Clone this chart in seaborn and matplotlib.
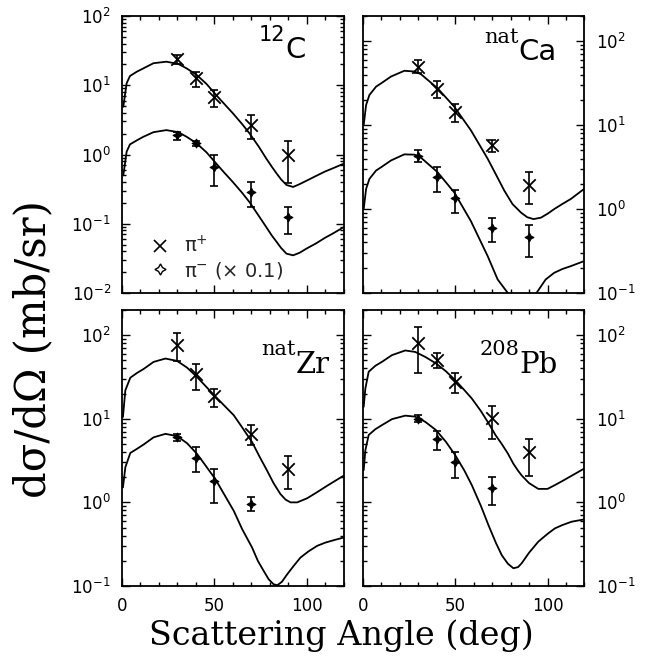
import numpy as np
import pandas as pd
import matplotlib
matplotlib.use("Agg")
import matplotlib.pyplot as plt
import seaborn as sns
from matplotlib.lines import Line2D
from matplotlib.ticker import LogLocator, MultipleLocator, NullFormatter, FixedLocator

sns.set_theme(style="ticks")
plt.rcParams["font.family"] = ["DejaVu Sans"]

# ---------------- data ----------------
meas_angles = [30, 40, 50, 70, 90]

# 12C
c12_pip = [23.7, 12.6, 6.8, 2.67, 1.0]
c12_pip_lo = [20.3, 9.34, 4.85, 1.66, 0.39]
c12_pip_hi = [27.3, 15.7, 8.54, 3.72, 1.58]
c12_pim = [1.91, 1.45, 0.667, 0.29, 0.124]
c12_pim_lo = [1.62, 1.32, 0.35, 0.176, 0.071]
c12_pim_hi = [2.13, 1.57, 0.98, 0.405, 0.176]
c12_curve_ang = [0.7, 2.5, 4.3, 8, 11.5, 17, 24, 30.5, 35, 40.4, 45.8, 51, 55, 60, 65, 69, 74, 78, 81, 83.6, 86, 89, 92.6, 96, 100, 105, 110, 114, 119.6]
c12_curve_pip = [4.9, 10.7, 13.6, 15.7, 17.5, 20.8, 21.9, 20.3, 17.5, 14.1, 10.4, 7.2, 5.5, 3.94, 2.75, 2.02, 1.3, 0.88, 0.67, 0.535, 0.44, 0.363, 0.34, 0.372, 0.42, 0.49, 0.57, 0.63, 0.73]
c12_curve_pim = [0.5, 1.1, 1.4, 1.6, 1.8, 2.1, 2.25, 2.1, 1.8, 1.45, 1.07, 0.74, 0.56, 0.40, 0.28, 0.205, 0.13, 0.09, 0.068, 0.055, 0.045, 0.037, 0.035, 0.038, 0.044, 0.052, 0.063, 0.072, 0.088]

# natCa
ca_pip = [50.0, 27.0, 14.5, 5.75, 1.94]
ca_pip_lo = [41.7, 21.3, 11.0, 4.8, 1.15]
ca_pip_hi = [60.0, 33.7, 17.7, 6.6, 2.75]
ca_pim = [4.28, 2.44, 1.34, 0.60, 0.466]
ca_pim_lo = [3.63, 1.61, 0.91, 0.40, 0.27]
ca_pim_hi = [5.0, 3.16, 1.71, 0.79, 0.64]
ca_curve_ang_p = [0.5, 1.8, 3.6, 7.2, 10, 15.3, 22.5, 28, 31.5, 40.5, 49.5, 58.5, 67.6, 72, 76.6, 81, 85.6, 89, 92.4, 96.4, 100, 103.6, 108, 112.6, 119.8]
ca_curve_pip = [10.0, 17.4, 22.9, 28.8, 31.6, 38.0, 44.5, 43.6, 40.5, 27.5, 16.6, 8.7, 3.98, 2.6, 1.66, 1.15, 0.91, 0.80, 0.76, 0.79, 0.88, 1.0, 1.15, 1.32, 1.74]
ca_curve_ang_m = [0.5, 1.8, 3.6, 7.2, 10, 15.3, 22.5, 28, 31.5, 40.5, 49.5, 58.5, 67.6, 73, 78.5, 84, 90, 94, 99, 103.6, 108, 112.6, 119.8]
ca_curve_pim = [1.0, 1.74, 2.29, 2.88, 3.16, 3.8, 4.49, 4.45, 4.1, 2.75, 1.58, 0.72, 0.275, 0.145, 0.1, 0.07, 0.075, 0.1, 0.145, 0.174, 0.193, 0.209, 0.24]

# natZr
zr_pip = [75.9, 34.0, 18.5, 6.6, 2.5]
zr_pip_lo = [49.0, 22.3, 13.8, 4.8, 1.45]
zr_pip_hi = [105.0, 45.7, 22.9, 8.5, 3.63]
zr_pim_ang = [30, 40, 50, 70]
zr_pim = [6.0, 3.4, 1.79, 0.955]
zr_pim_lo = [5.4, 2.29, 0.97, 0.78]
zr_pim_hi = [6.6, 4.57, 2.51, 1.15]
zr_curve_ang_p = [0.5, 1.8, 4.5, 8.1, 11.7, 17.1, 23.5, 29.8, 35.2, 40.6, 50.5, 60.5, 65, 70.4, 74.5, 78.5, 82, 85.7, 88.5, 91.2, 94.8, 100.2, 105, 111, 120]
zr_curve_pip = [10.5, 21.9, 31.0, 35.3, 39.4, 47.9, 52.5, 49.2, 40.9, 31.6, 18.5, 11.0, 7.9, 5.25, 3.5, 2.4, 1.7, 1.26, 1.08, 1.0, 1.0, 1.12, 1.3, 1.58, 2.09]
zr_curve_ang_m = [0.5, 1.8, 4.5, 8.1, 11.7, 17.1, 23.5, 29.8, 35.2, 40.6, 45, 50.5, 55, 60.5, 65, 70.4, 73.5, 76.7, 79.4, 82, 84, 86.5, 89.4, 93, 96.6, 101, 105.6, 110, 114.6, 120]
zr_curve_pim = [1.51, 2.63, 3.9, 4.37, 4.92, 6.0, 6.6, 6.2, 5.1, 3.8, 2.8, 1.9, 1.28, 0.79, 0.48, 0.288, 0.2, 0.151, 0.12, 0.105, 0.102, 0.112, 0.138, 0.175, 0.219, 0.26, 0.302, 0.33, 0.353, 0.38]

# 208Pb
pb_pip = [81.7, 50.2, 27.7, 10.1, 3.96]
pb_pip_lo = [34.8, 40.0, 20.6, 5.8, 2.08]
pb_pip_hi = [126.0, 60.4, 34.8, 14.3, 5.7]
pb_pim_ang = [30, 40, 50, 70]
pb_pim = [9.9, 5.8, 3.0, 1.47]
pb_pim_lo = [9.2, 4.2, 1.97, 0.93]
pb_pim_hi = [11.1, 7.1, 3.96, 2.03]
pb_curve_ang = [0.5, 1.4, 3.2, 6.8, 10.4, 15.8, 23, 28.4, 33.8, 39.7, 45, 50, 55, 59, 64, 68, 72, 75.2, 78.5, 81.5, 84, 86, 90, 95, 100, 104, 108, 113, 120]
pb_curve_pip = [13.9, 23.0, 36.5, 43.0, 48.0, 57.7, 65.6, 63.0, 55.0, 45.8, 37.0, 29.0, 22.0, 17.5, 12.3, 8.9, 6.3, 5.0, 3.85, 2.9, 2.4, 2.1, 1.7, 1.45, 1.45, 1.61, 1.8, 2.08, 2.55]
pb_curve_pim = [2.43, 4.2, 6.4, 7.5, 8.4, 9.9, 10.9, 10.6, 9.2, 7.3, 5.3, 3.68, 2.4, 1.61, 0.9, 0.536, 0.33, 0.234, 0.185, 0.163, 0.168, 0.187, 0.25, 0.339, 0.42, 0.489, 0.535, 0.587, 0.627]

panels = [
    dict(name="12C", sup="12", el="C", ylim=(1e-2, 1e2), side="left", top=True,
         pos=(0.186, 0.5554, 0.338, 0.4203), lab=(0.83, 0.848), elfont="DejaVu Sans",
         supfont="DejaVu Sans",
         pip_ang=meas_angles, pip=c12_pip, pip_lo=c12_pip_lo, pip_hi=c12_pip_hi,
         pim_ang=meas_angles, pim=c12_pim, pim_lo=c12_pim_lo, pim_hi=c12_pim_hi,
         cp_ang=c12_curve_ang, cp=c12_curve_pip, cm_ang=c12_curve_ang, cm=c12_curve_pim),
    dict(name="natCa", sup="nat", el="Ca", ylim=(1e-1, 2e2), side="right", top=True,
         pos=(0.553, 0.5554, 0.338, 0.4203), lab=(0.875, 0.84), elfont="DejaVu Sans",
         supfont="DejaVu Serif",
         pip_ang=meas_angles, pip=ca_pip, pip_lo=ca_pip_lo, pip_hi=ca_pip_hi,
         pim_ang=meas_angles, pim=ca_pim, pim_lo=ca_pim_lo, pim_hi=ca_pim_hi,
         cp_ang=ca_curve_ang_p, cp=ca_curve_pip, cm_ang=ca_curve_ang_m, cm=ca_curve_pim),
    dict(name="natZr", sup="nat", el="Zr", ylim=(1e-1, 2e2), side="left", top=False,
         pos=(0.186, 0.1108, 0.338, 0.4188), lab=(0.937, 0.772), elfont="DejaVu Serif",
         supfont="DejaVu Serif",
         pip_ang=meas_angles, pip=zr_pip, pip_lo=zr_pip_lo, pip_hi=zr_pip_hi,
         pim_ang=zr_pim_ang, pim=zr_pim, pim_lo=zr_pim_lo, pim_hi=zr_pim_hi,
         cp_ang=zr_curve_ang_p, cp=zr_curve_pip, cm_ang=zr_curve_ang_m, cm=zr_curve_pim),
    dict(name="208Pb", sup="208", el="Pb", ylim=(1e-1, 2e2), side="right", top=False,
         pos=(0.553, 0.1108, 0.338, 0.4188), lab=(0.88, 0.772), elfont="DejaVu Serif",
         supfont="DejaVu Serif",
         pip_ang=meas_angles, pip=pb_pip, pip_lo=pb_pip_lo, pip_hi=pb_pip_hi,
         pim_ang=pb_pim_ang, pim=pb_pim, pim_lo=pb_pim_lo, pim_hi=pb_pim_hi,
         cp_ang=pb_curve_ang, cp=pb_curve_pip, cm_ang=pb_curve_ang, cm=pb_curve_pim),
]

star4 = (4, 1, 0)

fig = plt.figure(figsize=(6.56, 6.59), dpi=100)
fig.patch.set_facecolor("white")

for p in panels:
    ax = fig.add_axes(p["pos"])
    ax.set_facecolor("white")
    for sp in ax.spines.values():
        sp.set_color("black")
        sp.set_linewidth(1.3)
    ax.set_yscale("log")

    sns.lineplot(x=p["cp_ang"], y=p["cp"], ax=ax, color="black", lw=1.3, estimator=None)
    sns.lineplot(x=p["cm_ang"], y=p["cm"], ax=ax, color="black", lw=1.3, estimator=None)

    pip = np.array(p["pip"]); pim = np.array(p["pim"])
    ax.errorbar(p["pip_ang"], pip,
                yerr=[pip - np.array(p["pip_lo"]), np.array(p["pip_hi"]) - pip],
                fmt="none", ecolor="black", elinewidth=1.2, capsize=3, capthick=1.2)
    ax.errorbar(p["pim_ang"], pim,
                yerr=[pim - np.array(p["pim_lo"]), np.array(p["pim_hi"]) - pim],
                fmt="none", ecolor="black", elinewidth=1.2, capsize=3, capthick=1.2)
    sns.scatterplot(x=p["pip_ang"], y=p["pip"], ax=ax, marker="x", s=80,
                    color="black", linewidth=1.3, zorder=5)
    sns.scatterplot(x=p["pim_ang"], y=p["pim"], ax=ax, marker=star4, s=40,
                    color="black", edgecolor="black", linewidth=0.8, zorder=5)

    ax.set_xlim(0, 120)
    ax.set_ylim(*p["ylim"])
    ax.set_xlabel("")
    ax.set_ylabel("")
    ax.xaxis.set_major_locator(FixedLocator([0, 50, 100]))
    ax.xaxis.set_minor_locator(MultipleLocator(10))
    ax.yaxis.set_major_locator(LogLocator(base=10, numticks=10))
    ax.yaxis.set_minor_locator(LogLocator(base=10, subs=np.arange(2, 10), numticks=20))
    ax.yaxis.set_minor_formatter(NullFormatter())
    ax.tick_params(which="both", direction="in", top=True, bottom=True, left=True, right=True,
                   colors="black", labelsize=12, width=1.0)
    ax.tick_params(which="major", length=6, pad=8)
    ax.tick_params(which="minor", length=3)
    if p["side"] == "right":
        ax.tick_params(axis="y", labelleft=False, labelright=True)
    else:
        ax.tick_params(axis="y", labelleft=True, labelright=False)
    if p["top"]:
        ax.tick_params(axis="x", labelbottom=False)
    for lab in ax.get_xticklabels() + ax.get_yticklabels():
        lab.set_color("black")

    t = ax.text(p["lab"][0], p["lab"][1], p["el"], transform=ax.transAxes, ha="right",
                va="baseline", fontsize=21, family=p["elfont"], color="black")
    ax.annotate(p["sup"], xy=(0, 0.7), xycoords=t, ha="right", va="bottom",
                fontsize=15, family=p["supfont"], color="black")

    if p["name"] == "12C":
        handles = [Line2D([], [], ls="none", marker="x", color="black", markersize=9, mew=1.2),
                   Line2D([], [], ls="none", marker=star4, color="black", markerfacecolor="white",
                          markersize=8, mew=1.0)]
        ax.legend(handles, ["π$^{+}$", "π$^{-}$ (× 0.1)"], loc="lower left",
                  bbox_to_anchor=(0.12, 0.045), frameon=False, fontsize=14,
                  borderpad=0, borderaxespad=0,
                  handletextpad=0.6, labelspacing=0.15, handlelength=1.2)

fig.text(0.52, 0.036, "Scattering Angle (deg)", ha="center", va="center",
         fontsize=24, family="DejaVu Serif", color="black")
fig.text(0.05, 0.47, "dσ/dΩ (mb/sr)", ha="center", va="center", rotation=90,
         fontsize=30, family="DejaVu Serif", color="black")

fig.savefig("out.png", dpi=100, facecolor="white")
